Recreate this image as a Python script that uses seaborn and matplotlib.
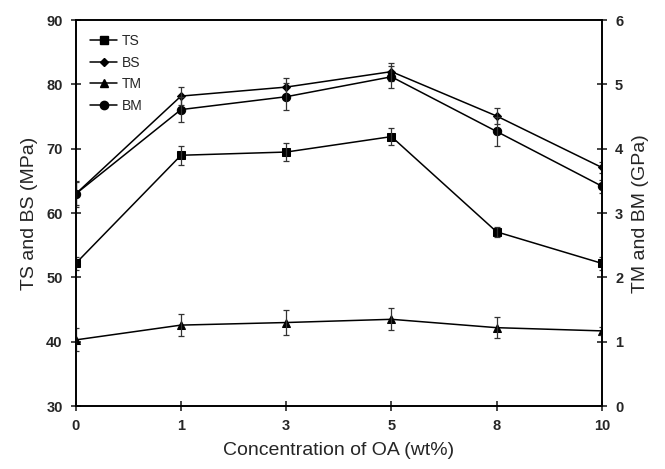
import matplotlib
matplotlib.use("Agg")
import matplotlib.pyplot as plt
import numpy as np
import pandas as pd
import seaborn as sns

# concentration of OA (wt%) - categorical, equally spaced
conc = ["0", "1", "3", "5", "8", "10"]

# strengths (MPa, left axis)
ts = [52.2, 69.0, 69.5, 71.9, 57.1, 52.2]
ts_err = [1.0, 1.5, 1.4, 1.3, 0.8, 1.0]
bs = [63.0, 78.2, 79.6, 82.0, 75.1, 67.1]
bs_err = [1.8, 1.4, 1.4, 1.4, 1.3, 0.8]

# moduli (GPa, right axis)
tm = [1.03, 1.26, 1.30, 1.35, 1.22, 1.17]
tm_err = [0.18, 0.17, 0.19, 0.17, 0.16, 0.06]
bm = [3.30, 4.61, 4.81, 5.12, 4.27, 3.42]
bm_err = [0.20, 0.20, 0.21, 0.17, 0.22, 0.10]

sns.set_style("ticks")
plt.rcParams['font.family'] = ['Liberation Sans', 'DejaVu Sans']

df = pd.DataFrame({"pos": np.arange(len(conc)), "TS": ts, "BS": bs, "TM": tm, "BM": bm})

fig = plt.figure(figsize=(6.65, 4.69), dpi=100)
ax = fig.add_axes([0.114, 0.134, 0.791, 0.823])
ax2 = ax.twinx()

styles = {"TS": ("s", 6), "BS": ("D", 4.5), "TM": ("^", 6), "BM": ("o", 6)}
errs = {"TS": ts_err, "BS": bs_err, "TM": tm_err, "BM": bm_err}
handles = []
for name in ["TS", "BS", "TM", "BM"]:
    a = ax if name in ("TS", "BS") else ax2
    mk, ms = styles[name]
    sns.lineplot(data=df, x="pos", y=name, ax=a, color="black", lw=1.1,
                 marker=mk, markersize=ms, markeredgecolor="black", legend=False)
    a.errorbar(df["pos"], df[name], yerr=errs[name], fmt="none", ecolor="#333333",
               elinewidth=0.9, capsize=2.5, capthick=0.9)
    handles.append(plt.Line2D([], [], color="black", lw=1.1, marker=mk, markersize=ms))

ax.set_xlim(0, len(conc) - 1)
ax.set_ylim(30, 90)
ax2.set_ylim(0, 6)
ax.set_xticks(df["pos"])
ax.set_xticklabels(conc)
ax.set_yticks(np.arange(30, 91, 10))
ax2.set_yticks(np.arange(0, 7, 1))

for a in (ax, ax2):
    a.tick_params(direction="inout", length=7, width=1.2, labelsize=10.5, pad=6)
    for lbl in a.get_xticklabels() + a.get_yticklabels():
        lbl.set_fontweight("heavy")
    for sp in a.spines.values():
        sp.set_linewidth(1.2)
        sp.set_color("black")
        sp.set_visible(True)

ax.set_xlabel("Concentration of OA (wt%)", fontsize=14, labelpad=6)
ax.set_ylabel("TS and BS (MPa)", fontsize=14, labelpad=6)
ax2.set_ylabel("TM and BM (GPa)", fontsize=14, labelpad=6)

ax.legend(handles, ["TS", "BS", "TM", "BM"], loc="upper left", frameon=False,
          fontsize=10, handlelength=2.0, borderaxespad=0.6, labelspacing=0.55,
          handletextpad=0.3)

fig.savefig("out.png", dpi=100)
